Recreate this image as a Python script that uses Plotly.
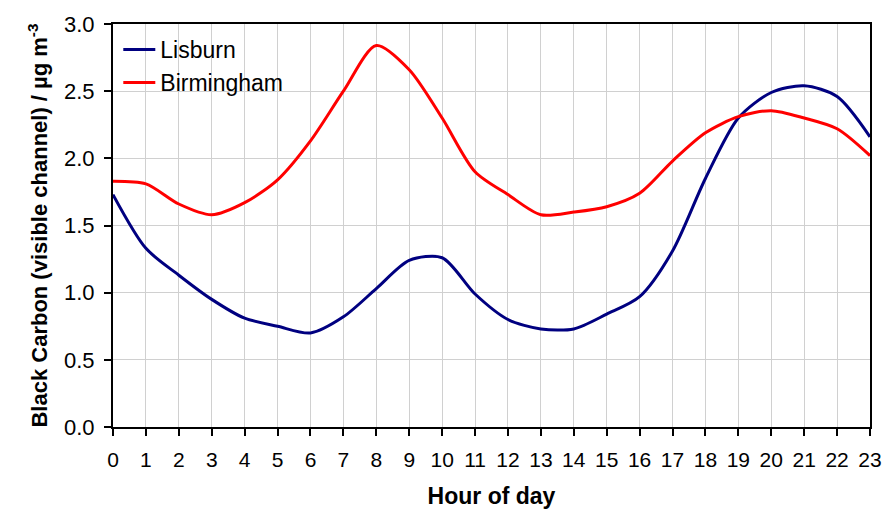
import plotly.graph_objects as go

# Hourly mean black carbon (visible channel), µg m^-3
hours = list(range(24))
lisburn = [1.73, 1.33, 1.13, 0.95, 0.81, 0.75, 0.70, 0.82, 1.03, 1.24, 1.26, 0.99,
           0.80, 0.73, 0.73, 0.84, 0.97, 1.31, 1.85, 2.30, 2.49, 2.54, 2.46, 2.16]
birmingham = [1.83, 1.81, 1.66, 1.58, 1.67, 1.84, 2.13, 2.50, 2.84, 2.66, 2.30, 1.90,
              1.73, 1.58, 1.60, 1.64, 1.74, 1.98, 2.19, 2.31, 2.355, 2.30, 2.22, 2.02]
x_ticks = list(range(24))
y_ticks = [0.0, 0.5, 1.0, 1.5, 2.0, 2.5, 3.0]

FONT = "Liberation Sans, Arial, sans-serif"

fig = go.Figure()
fig.add_trace(go.Scatter(x=hours, y=lisburn, name="Lisburn", mode="lines",
                         line=dict(color="#000080", width=3, shape="spline", smoothing=0.8)))
fig.add_trace(go.Scatter(x=hours, y=birmingham, name="Birmingham", mode="lines",
                         line=dict(color="#ff0000", width=3, shape="spline", smoothing=0.8)))

fig.update_layout(
    width=885, height=509,
    margin=dict(l=113, r=15, t=24, b=82),
    paper_bgcolor="white", plot_bgcolor="white",
    font=dict(family=FONT, color="black", size=21),
    showlegend=True,
    legend=dict(x=0.007, y=0.99, xanchor="left", yanchor="top",
                bgcolor="rgba(255,255,255,0)", font=dict(size=23),
                itemwidth=32, tracegroupgap=0),
)
fig.update_xaxes(
    range=[0, 23], tickvals=x_ticks, ticktext=[str(t) for t in x_ticks],
    showgrid=True, gridcolor="#d0d0d0", gridwidth=1,
    showline=True, linecolor="black", linewidth=2, mirror=True,
    ticks="outside", ticklen=7, tickcolor="black", tickwidth=2,
    tickfont=dict(size=21), ticklabelstandoff=6,
    title=dict(text="<b>Hour of day</b>", font=dict(size=23), standoff=20),
    zeroline=False, automargin=False,
)
fig.update_yaxes(
    range=[0, 3.0], tickvals=y_ticks, ticktext=[f"{v:.1f}" for v in y_ticks],
    showgrid=True, gridcolor="#d0d0d0", gridwidth=1,
    showline=True, linecolor="black", linewidth=2, mirror=True,
    ticks="outside", ticklen=7, tickcolor="black", tickwidth=2,
    tickfont=dict(size=22), ticklabelstandoff=5,
    title=dict(text="<b>Black Carbon (visible channel) / µg m<sup>-3</sup></b>",
               font=dict(size=22), standoff=10),
    zeroline=False, automargin=False,
)

fig.write_html("out.html")
